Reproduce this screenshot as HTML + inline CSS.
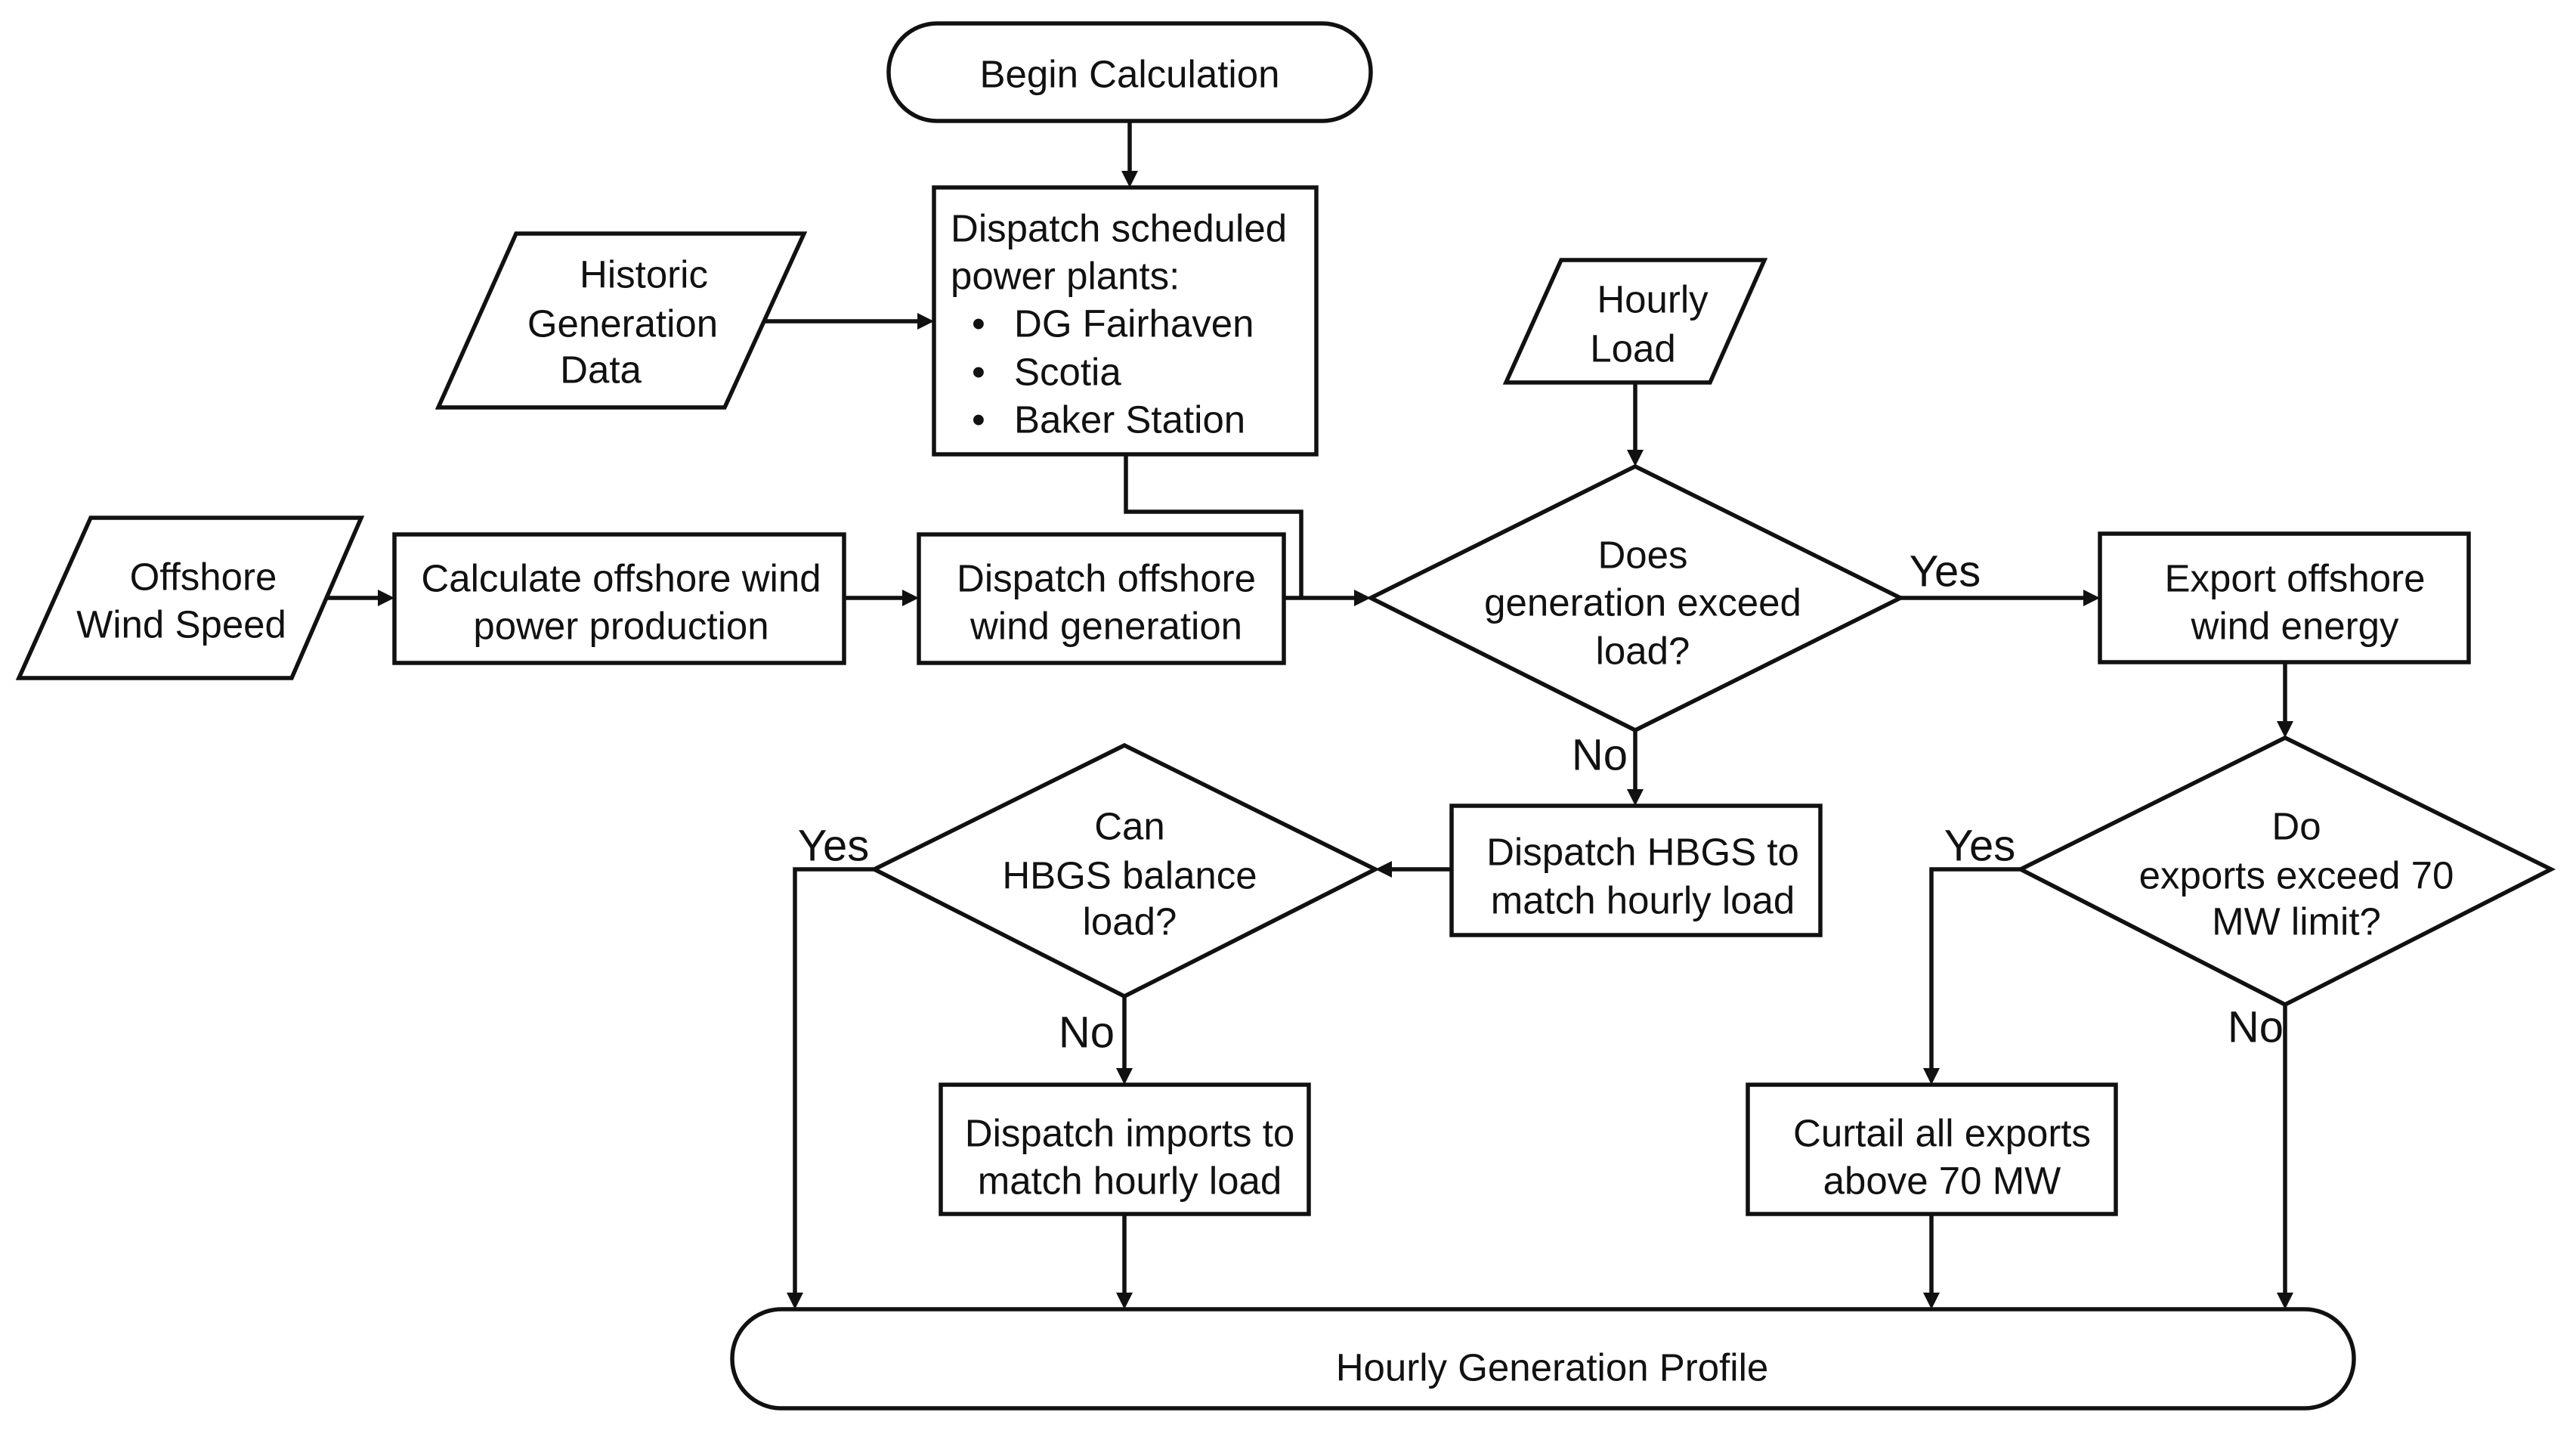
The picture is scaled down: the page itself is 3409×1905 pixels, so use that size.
<!DOCTYPE html>
<html><head><meta charset="utf-8"><style>
html,body{margin:0;padding:0;background:#fff;}
svg{display:block;}
text{font-family:"Liberation Sans",Arial,sans-serif;font-size:51px;fill:#111;dominant-baseline:central;}
.c{text-anchor:middle;}
.l{font-size:58px;}
</style></head><body>
<svg width="3409" height="1905" viewBox="0 0 3409 1905" xmlns="http://www.w3.org/2000/svg">
<g fill="none" stroke="#111" stroke-width="5.5">
<rect x="1176" y="31" width="638" height="129" rx="64"/>
<rect x="1236" y="248" width="506" height="353"/>
<polygon points="683,309 1064,309 959,539 580,539"/>
<polygon points="120,685 478,685 386,897 25,897"/>
<rect x="522" y="707" width="595" height="170"/>
<rect x="1216" y="707" width="483" height="170"/>
<polygon points="2066,344 2335,344 2263,506 1993,506"/>
<polygon points="2164,617 2515,791 2164,966 1814,791"/>
<rect x="2779" y="706" width="488" height="170"/>
<polygon points="3024,976 3376,1150 3024,1329 2674,1150"/>
<rect x="1921" y="1066" width="488" height="171"/>
<polygon points="1488,986 1820,1150 1488,1318 1157,1150"/>
<rect x="1245" y="1435" width="487" height="171"/>
<rect x="2313" y="1435" width="487" height="171"/>
<rect x="969" y="1732" width="2146" height="131" rx="65"/>
<line x1="1495" y1="160" x2="1495" y2="228"/>
<line x1="1012" y1="425" x2="1216" y2="425"/>
<polyline points="1490,601 1490,677 1722,677 1722,791"/>
<line x1="430" y1="791" x2="502" y2="791"/>
<line x1="1117" y1="791" x2="1196" y2="791"/>
<line x1="1699" y1="791" x2="1794" y2="791"/>
<line x1="2164" y1="506" x2="2164" y2="597"/>
<line x1="2515" y1="791" x2="2759" y2="791"/>
<line x1="3024" y1="876" x2="3024" y2="956"/>
<line x1="2164" y1="966" x2="2164" y2="1046"/>
<line x1="1921" y1="1150" x2="1840" y2="1150"/>
<polyline points="1157,1150 1052,1150 1052,1712"/>
<line x1="1488" y1="1318" x2="1488" y2="1415"/>
<line x1="1488" y1="1606" x2="1488" y2="1712"/>
<polyline points="2674,1150 2556,1150 2556,1415"/>
<line x1="2556" y1="1606" x2="2556" y2="1712"/>
<line x1="3024" y1="1329" x2="3024" y2="1712"/>
</g>
<g fill="#111">
<polygon points="1495,248 1484,226 1506,226"/>
<polygon points="1236,425 1214,414 1214,436"/>
<polygon points="522,791 500,780 500,802"/>
<polygon points="1216,791 1194,780 1194,802"/>
<polygon points="1814,791 1792,780 1792,802"/>
<polygon points="2164,617 2153,595 2175,595"/>
<polygon points="2779,791 2757,780 2757,802"/>
<polygon points="3024,976 3013,954 3035,954"/>
<polygon points="2164,1066 2153,1044 2175,1044"/>
<polygon points="1820,1150 1842,1139 1842,1161"/>
<polygon points="1052,1732 1041,1710 1063,1710"/>
<polygon points="1488,1435 1477,1413 1499,1413"/>
<polygon points="1488,1732 1477,1710 1499,1710"/>
<polygon points="2556,1435 2545,1413 2567,1413"/>
<polygon points="2556,1732 2545,1710 2567,1710"/>
<polygon points="3024,1732 3013,1710 3035,1710"/>
</g>
<text class="c" x="1495" y="98">Begin Calculation</text>
<text x="1258" y="302">Dispatch scheduled</text>
<text x="1258" y="365">power plants:</text>
<text x="1286" y="428">•</text><text x="1342" y="428">DG Fairhaven</text>
<text x="1286" y="492">•</text><text x="1342" y="492">Scotia</text>
<text x="1286" y="555">•</text><text x="1342" y="555">Baker Station</text>
<text class="c" x="852" y="363">Historic</text>
<text class="c" x="824" y="428">Generation</text>
<text class="c" x="795" y="489">Data</text>
<text class="c" x="269" y="763">Offshore</text>
<text class="c" x="240" y="826">Wind Speed</text>
<text class="c" x="822" y="765">Calculate offshore wind</text>
<text class="c" x="822" y="828">power production</text>
<text class="c" x="1464" y="765">Dispatch offshore</text>
<text class="c" x="1464" y="828">wind generation</text>
<text class="c" x="2187" y="396">Hourly</text>
<text class="c" x="2161" y="461">Load</text>
<text class="c" x="2174" y="734">Does</text>
<text class="c" x="2174" y="797">generation exceed</text>
<text class="c" x="2174" y="861">load?</text>
<text class="c l" x="2574" y="756">Yes</text>
<text class="c" x="3037" y="765">Export offshore</text>
<text class="c" x="3037" y="828">wind energy</text>
<text class="c l" x="2117" y="999">No</text>
<text class="c" x="2174" y="1127">Dispatch HBGS to</text>
<text class="c" x="2174" y="1191">match hourly load</text>
<text class="c" x="1495" y="1093">Can</text>
<text class="c" x="1495" y="1158">HBGS balance</text>
<text class="c" x="1495" y="1219">load?</text>
<text class="c l" x="1103" y="1119">Yes</text>
<text class="c l" x="1438" y="1366">No</text>
<text class="c" x="1495" y="1499">Dispatch imports to</text>
<text class="c" x="1495" y="1562">match hourly load</text>
<text class="c" x="3039" y="1093">Do</text>
<text class="c" x="3039" y="1158">exports exceed 70</text>
<text class="c" x="3039" y="1219">MW limit?</text>
<text class="c l" x="2620" y="1119">Yes</text>
<text class="c l" x="2985" y="1359">No</text>
<text class="c" x="2570" y="1499">Curtail all exports</text>
<text class="c" x="2570" y="1562">above 70 MW</text>
<text class="c" x="2054" y="1809">Hourly Generation Profile</text>
</svg>
</body></html>
